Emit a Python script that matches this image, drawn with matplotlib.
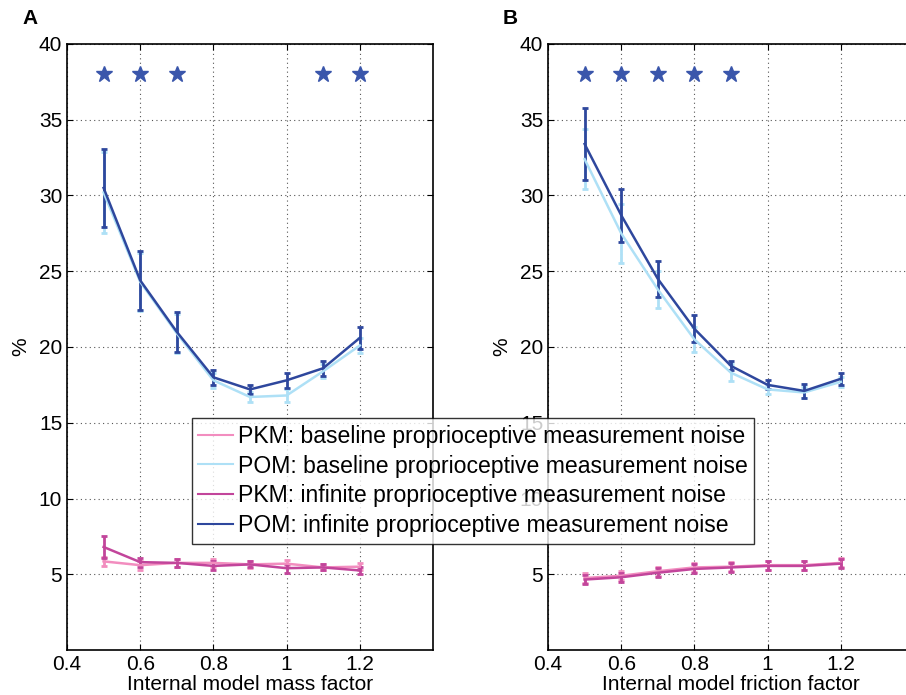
import matplotlib
matplotlib.use("Agg")
import matplotlib.pyplot as plt
import numpy as np

plt.rcParams['font.family'] = ['Liberation Sans', 'DejaVu Sans']

factors = [0.5, 0.6, 0.7, 0.8, 0.9, 1.0, 1.1, 1.2]

# panel A: mass factor
a_pkm_base = [5.85, 5.6, 5.75, 5.75, 5.65, 5.7, 5.45, 5.5]
a_pkm_base_err = [0.3, 0.3, 0.25, 0.25, 0.25, 0.25, 0.2, 0.25]
a_pom_base = [30.2, 24.3, 20.9, 17.8, 16.7, 16.8, 18.4, 20.1]
a_pom_base_err = [2.7, 1.9, 1.3, 0.5, 0.35, 0.4, 0.45, 0.5]
a_pkm_inf = [6.8, 5.8, 5.75, 5.55, 5.65, 5.4, 5.45, 5.25]
a_pkm_inf_err = [0.75, 0.3, 0.25, 0.3, 0.2, 0.3, 0.2, 0.25]
a_pom_inf = [30.5, 24.4, 21.0, 18.0, 17.2, 17.8, 18.6, 20.6]
a_pom_inf_err = [2.55, 1.95, 1.3, 0.5, 0.3, 0.5, 0.5, 0.7]
a_stars = [0.5, 0.6, 0.7, 1.1, 1.2]

# panel B: friction factor
b_pkm_base = [4.75, 4.9, 5.2, 5.45, 5.5, 5.6, 5.6, 5.75]
b_pkm_base_err = [0.3, 0.3, 0.3, 0.3, 0.3, 0.3, 0.3, 0.3]
b_pom_base = [32.4, 27.5, 23.8, 20.5, 18.3, 17.2, 17.0, 17.7]
b_pom_base_err = [2.0, 1.95, 1.2, 0.8, 0.55, 0.3, 0.35, 0.35]
b_pkm_inf = [4.65, 4.8, 5.1, 5.35, 5.45, 5.55, 5.55, 5.7]
b_pkm_inf_err = [0.3, 0.3, 0.3, 0.3, 0.3, 0.3, 0.3, 0.3]
b_pom_inf = [33.4, 28.7, 24.5, 21.2, 18.75, 17.5, 17.1, 17.9]
b_pom_inf_err = [2.4, 1.75, 1.2, 0.9, 0.3, 0.3, 0.45, 0.4]
b_stars = [0.5, 0.6, 0.7, 0.8, 0.9]

labels = ["PKM: baseline proprioceptive measurement noise",
          "POM: baseline proprioceptive measurement noise",
          "PKM: infinite proprioceptive measurement noise",
          "POM: infinite proprioceptive measurement noise"]
C_PINK, C_LBLUE, C_MAG, C_DBLUE = "#f28dbf", "#aee0f6", "#c2459b", "#2e479d"
STAR_C = "#3a56ab"

fig = plt.figure(figsize=(9.06, 6.95), dpi=100)
axA = fig.add_axes([67 / 906, 45 / 695, 366 / 906, 606 / 695])
axB = fig.add_axes([548 / 906, 45 / 695, 366 / 906, 606 / 695])

panels = [
    (axA, "Internal model mass factor", a_stars,
     [(a_pkm_base, a_pkm_base_err, C_PINK), (a_pom_base, a_pom_base_err, C_LBLUE),
      (a_pkm_inf, a_pkm_inf_err, C_MAG), (a_pom_inf, a_pom_inf_err, C_DBLUE)]),
    (axB, "Internal model friction factor", b_stars,
     [(b_pkm_base, b_pkm_base_err, C_PINK), (b_pom_base, b_pom_base_err, C_LBLUE),
      (b_pkm_inf, b_pkm_inf_err, C_MAG), (b_pom_inf, b_pom_inf_err, C_DBLUE)]),
]

handles = []
for ax, xl, stars, series in panels:
    hs = []
    for vals, err, col in series:
        ax.errorbar(factors, vals, yerr=err, color=col, lw=1.8, elinewidth=2,
                    capsize=2.5, capthick=2)
        hs.append(plt.Line2D([], [], color=col, lw=1.5))
    handles = hs
    ax.plot(stars, [38] * len(stars), ls="none", marker="*", ms=12, color=STAR_C, mec=STAR_C)
    ax.set_xlim(0.4, 1.4)
    ax.set_ylim(0, 40)
    ax.set_xticks([0.4, 0.6, 0.8, 1.0, 1.2])
    ax.set_xticklabels(["0.4", "0.6", "0.8", "1", "1.2"])
    ax.set_yticks([5, 10, 15, 20, 25, 30, 35, 40])
    ax.tick_params(direction="in", labelsize=15, length=4, top=True, right=True)
    ax.grid(True, ls=(0, (1, 3)), color="#555555", lw=0.8)
    ax.set_xlabel(xl, fontsize=15, labelpad=1)
    ax.set_ylabel("%", fontsize=15, labelpad=6)
    for s in ax.spines.values():
        s.set_linewidth(1.2)

fig.text(22 / 906, 1 - 18 / 695, "A", fontsize=15, fontweight="bold", va="center")
fig.text(503 / 906, 1 - 18 / 695, "B", fontsize=15, fontweight="bold", va="center")

leg = fig.legend(handles, labels, loc="center", bbox_to_anchor=(473 / 906, 1 - 481 / 695),
                 fontsize=16.6, frameon=True, fancybox=False, handlelength=1.5,
                 handletextpad=0.2, borderpad=0.3, labelspacing=0.3, borderaxespad=0)
leg.get_frame().set_edgecolor("black")
leg.get_frame().set_linewidth(1.0)
leg.set_zorder(10)

fig.savefig("out.png", dpi=100)
